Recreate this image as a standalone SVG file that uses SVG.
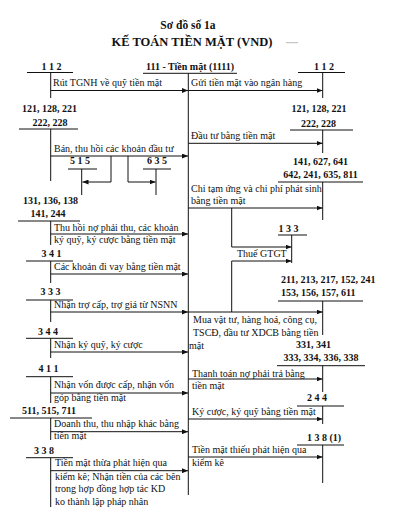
<svg xmlns="http://www.w3.org/2000/svg" width="394" height="514" viewBox="0 0 394 514">
<style>
text{font-family:"Liberation Serif","Times New Roman",serif;fill:#111}
.t{font-size:10px}
.a{font-size:10px;font-weight:bold}
.m{text-anchor:middle}
.title{font-weight:bold;text-anchor:middle}
line,path{stroke:#111;stroke-width:1;fill:none}
.arr{marker-end:url(#ah)}
</style>
<defs>
<marker id="ah" markerUnits="userSpaceOnUse" markerWidth="7" markerHeight="5" refX="6" refY="2.5" orient="auto">
<path d="M0,0 L6,2.5 L0,5 z" style="fill:#111;stroke:none"/>
</marker>
</defs>
<rect width="394" height="514" fill="#fff"/>
<g id="title">
<text class="title" x="188" y="29" font-size="11.5">Sơ đồ số 1a</text>
<text class="title" x="192" y="45.5" font-size="12.5">KẾ TOÁN TIỀN MẶT (VND)</text>
<line x1="286" y1="42.7" x2="298" y2="42.7" style="stroke:#bbb"/>
</g>
<g id="acc111">
<text class="a m" x="190" y="70">111 - Tiền mặt (1111)</text>
<line x1="143" y1="73.3" x2="237" y2="73.3"/>
<line x1="188.3" y1="73.3" x2="188.3" y2="495"/>
</g>
<g id="L112">
<text class="a m" x="51.5" y="70">1 1 2</text>
<line x1="27" y1="72.5" x2="73" y2="72.5"/>
<line x1="50.7" y1="72.5" x2="50.7" y2="98"/>
<text class="t" x="53" y="86">Rút TGNH về quỹ tiền mặt</text>
</g>
<g id="L121">
<text class="a m" x="49.5" y="112">121, 128, 221</text>
<text class="a m" x="50" y="125.7">222, 228</text>
<line x1="19" y1="129" x2="78" y2="129"/>
<line x1="50.7" y1="129" x2="50.7" y2="181"/>
<text class="t" x="54" y="152">Bán, thu hồi các khoản đầu tư</text>
</g>
<g id="L515">
<text class="a m" x="80" y="164">5 1 5</text>
<line x1="68" y1="169" x2="97" y2="169"/>
<line x1="81.7" y1="169" x2="81.7" y2="195"/>
</g>
<g id="L635">
<text class="a m" x="157" y="164">6 3 5</text>
<line x1="143" y1="169" x2="171" y2="169"/>
<line x1="156" y1="169" x2="156" y2="195"/>
</g>
<g id="L131">
<text class="a m" x="50.5" y="204">131, 136, 138</text>
<text class="a m" x="48" y="216.7">141, 244</text>
<line x1="18" y1="221" x2="80" y2="221"/>
<line x1="50.7" y1="221" x2="50.7" y2="245"/>
<text class="t" x="54" y="230.7">Thu hồi nợ phải thu, các khoản</text>
<text class="t" x="54" y="243">ký quỹ, ký cược bằng tiền mặt</text>
</g>
<g id="L341">
<text class="a m" x="51.5" y="256.7">3 4 1</text>
<line x1="26" y1="261" x2="73" y2="261"/>
<line x1="50.7" y1="261" x2="50.7" y2="283"/>
<text class="t" x="54" y="270">Các khoản đi vay bằng tiền mặt</text>
</g>
<g id="L333">
<text class="a m" x="50.5" y="295">3 3 3</text>
<line x1="26" y1="300" x2="73" y2="300"/>
<line x1="50.7" y1="300" x2="50.7" y2="322"/>
<text class="t" x="54" y="308">Nhận trợ cấp, trợ giá từ NSNN</text>
</g>
<g id="L344">
<text class="a m" x="48" y="335">3 4 4</text>
<line x1="26" y1="338.3" x2="73" y2="338.3"/>
<line x1="50.7" y1="338.3" x2="50.7" y2="358"/>
<text class="t" x="54" y="348">Nhận ký quỹ, ký cược</text>
</g>
<g id="L411">
<text class="a m" x="48.5" y="372">4 1 1</text>
<line x1="26" y1="376.7" x2="73" y2="376.7"/>
<line x1="50.7" y1="376.7" x2="50.7" y2="403"/>
<text class="t" x="54" y="388">Nhận vốn được cấp, nhận vốn</text>
<text class="t" x="54" y="400.5">góp bằng tiền mặt</text>
</g>
<g id="L511">
<text class="a m" x="49" y="414">511, 515, 711</text>
<line x1="10" y1="418" x2="92" y2="418"/>
<line x1="50.7" y1="418" x2="50.7" y2="440"/>
<text class="t" x="54" y="427">Doanh thu, thu nhập khác bằng</text>
<text class="t" x="54" y="439">tiền mặt</text>
</g>
<g id="L338">
<text class="a m" x="44" y="454">3 3 8</text>
<line x1="26" y1="457.7" x2="73" y2="457.7"/>
<line x1="50.7" y1="457.7" x2="50.7" y2="507"/>
<text class="t" x="55" y="466">Tiền mặt thừa phát hiện qua</text>
<text class="t" x="55" y="480">kiểm kê; Nhận tiền của các bên</text>
<text class="t" x="55" y="492">trong hợp đồng hợp tác KD</text>
<text class="t" x="55" y="505">ko thành lập pháp nhân</text>
</g>
<g id="R112">
<text class="a m" x="324" y="70">1 1 2</text>
<line x1="298" y1="72.5" x2="345" y2="72.5"/>
<line x1="322.7" y1="72.5" x2="322.7" y2="98"/>
<text class="t" x="191" y="86">Gửi tiền mặt vào ngân hàng</text>
</g>
<g id="R121">
<text class="a m" x="319" y="112">121, 128, 221</text>
<text class="a m" x="318.5" y="127">222, 228</text>
<line x1="290" y1="130" x2="353" y2="130"/>
<line x1="322.7" y1="130" x2="322.7" y2="153"/>
<text class="t" x="191" y="138.5">Đầu tư bằng tiền mặt</text>
</g>
<g id="R141">
<text class="a m" x="320.5" y="165">141, 627, 641</text>
<text class="a m" x="320.5" y="177.7">642, 241, 635, 811</text>
<line x1="278" y1="182" x2="363" y2="182"/>
<line x1="322.7" y1="182" x2="322.7" y2="220"/>
<text class="t" x="191" y="192">Chi tạm ứng và chi phí phát sinh</text>
<text class="t" x="191" y="204">bằng tiền mặt</text>
</g>
<g id="R133">
<text class="a m" x="288.5" y="232">1 3 3</text>
<line x1="278" y1="235" x2="307" y2="235"/>
<line x1="291.7" y1="235" x2="291.7" y2="263"/>
<text class="t" x="237" y="256.5">Thuế GTGT</text>
</g>
<g id="R211">
<text class="a" x="281" y="282.7">211, 213, 217, 152, 241</text>
<text class="a" x="281" y="296">153, 156, 157, 611</text>
<line x1="278" y1="301" x2="363" y2="301"/>
<line x1="322.7" y1="301" x2="322.7" y2="335"/>
<text class="t" x="193" y="323">Mua vật tư, hàng hoá, công cụ,</text>
<text class="t" x="193" y="336">TSCĐ, đầu tư XDCB bằng tiền</text>
<text class="t" x="189" y="348.5">mặt</text>
</g>
<g id="R331">
<text class="a m" x="313.5" y="348">331, 341</text>
<text class="a m" x="321" y="360.7">333, 334, 336, 338</text>
<line x1="277" y1="365.7" x2="365" y2="365.7"/>
<line x1="322.7" y1="365.7" x2="322.7" y2="392"/>
<text class="t" x="192" y="376.5">Thanh toán nợ phải trả bằng</text>
<text class="t" x="192" y="389">tiền mặt</text>
</g>
<g id="R244">
<text class="a m" x="317" y="401">2 4 4</text>
<line x1="297" y1="406" x2="344" y2="406"/>
<line x1="322.7" y1="406" x2="322.7" y2="424"/>
<text class="t" x="192" y="414.5">Ký cược, ký quỹ bằng tiền mặt</text>
</g>
<g id="R1381">
<text class="a m" x="324" y="440.7">1 3 8 (1)</text>
<line x1="297" y1="445" x2="344" y2="445"/>
<line x1="322.7" y1="445" x2="322.7" y2="483"/>
<text class="t" x="192" y="453">Tiền mặt thiếu phát hiện qua</text>
<text class="t" x="192" y="465.5">kiểm kê</text>
</g>
<g id="connectors">
<line class="arr" x1="50.7" y1="90.5" x2="188" y2="90.5"/>
<line class="arr" x1="50.7" y1="156" x2="188" y2="156"/>
<path class="arr" d="M111,156 V182 H82.5"/>
<path class="arr" d="M128,156 V182 H155.5"/>
<line class="arr" x1="50.7" y1="234" x2="188" y2="234"/>
<line class="arr" x1="50.7" y1="274" x2="188" y2="274"/>
<line class="arr" x1="50.7" y1="312" x2="188" y2="312"/>
<line class="arr" x1="50.7" y1="352" x2="188" y2="352"/>
<line class="arr" x1="50.7" y1="393" x2="188" y2="393"/>
<line class="arr" x1="50.7" y1="431.7" x2="188" y2="431.7"/>
<line class="arr" x1="50.7" y1="470.7" x2="188" y2="470.7"/>
<line class="arr" x1="188.3" y1="90.5" x2="322.5" y2="90.5"/>
<line class="arr" x1="188.3" y1="143.3" x2="322.5" y2="143.3"/>
<line class="arr" x1="188.3" y1="208" x2="322.5" y2="208"/>
<path class="arr" d="M231.7,208 V247 H291.5"/>
<path class="arr" d="M231.7,312 V261 H291.5"/>
<line class="arr" x1="188.3" y1="312" x2="322.5" y2="312"/>
<line class="arr" x1="188.3" y1="379" x2="322.5" y2="379"/>
<line class="arr" x1="188.3" y1="419" x2="322.5" y2="419"/>
<line class="arr" x1="188.3" y1="457" x2="322.5" y2="457"/>
</g>
</svg>
